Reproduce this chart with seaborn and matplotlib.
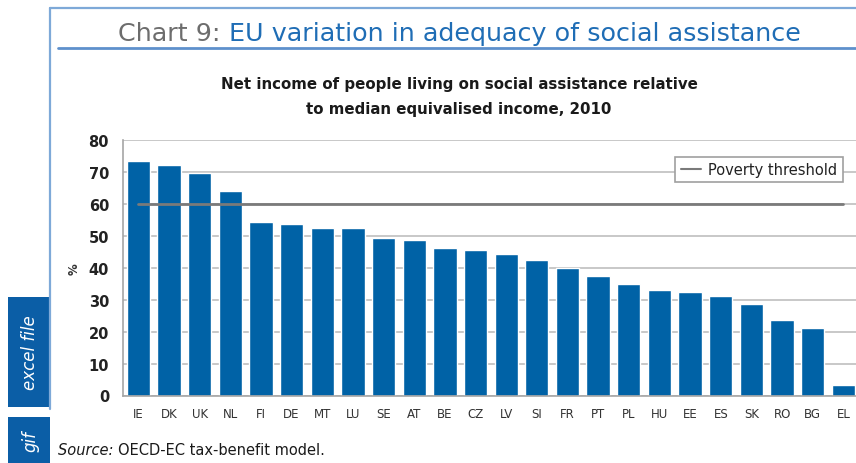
import numpy as np
import pandas as pd
import matplotlib
matplotlib.use("Agg")
import matplotlib.pyplot as plt
from matplotlib.patches import Rectangle
from matplotlib.lines import Line2D
import seaborn as sns

countries = ["IE", "DK", "UK", "NL", "FI", "DE", "MT", "LU", "SE", "AT", "BE", "CZ",
             "LV", "SI", "FR", "PT", "PL", "HU", "EE", "ES", "SK", "RO", "BG", "EL"]
net_income_pct = [73.3, 72.1, 69.6, 63.9, 54.4, 53.8, 52.6, 52.6, 49.4, 48.8, 46.3, 45.5,
                  44.3, 42.4, 40.0, 37.5, 35.0, 33.1, 32.5, 31.3, 28.7, 23.6, 21.1, 3.4]
poverty_threshold = 60
y_ticks = [0, 10, 20, 30, 40, 50, 60, 70, 80]

BAR_BLUE = "#0062a6"
TITLE_BLUE = "#1f6db5"
FRAME_BLUE = "#7ea9d8"
TAB_BLUE = "#0b5ea6"

sns.set_theme(style="white")
plt.rcParams["font.family"] = ["DejaVu Sans"]

W, H = 856, 464
fig = plt.figure(figsize=(W / 100, H / 100), dpi=100)

def fx(px):
    return px / W

def fy(py):
    return 1 - py / H

# plot area
ax = fig.add_axes([fx(123), fy(396.5), fx(858.7) - fx(123), fy(141) - fy(396.5)])

df = pd.DataFrame({"country": countries, "value": net_income_pct})
sns.barplot(data=df, x="country", y="value", color=BAR_BLUE, width=0.76,
            saturation=1, ax=ax, zorder=2)

# poverty threshold line across all countries
xs = np.arange(len(countries))
ax.plot(xs, [poverty_threshold] * len(countries), color="#7a7a7a", lw=2.0,
        zorder=3, label="Poverty threshold")

ax.set_xlim(-0.5, len(countries) - 0.5)
ax.set_ylim(0, 80)
ax.set_yticks(y_ticks)
ax.yaxis.grid(True, color="#c4c4c4", lw=1.3, zorder=0)
ax.set_axisbelow(True)
for s in ["top", "right"]:
    ax.spines[s].set_visible(False)
for s in ["left", "bottom"]:
    ax.spines[s].set_color("#a6a6a6")
    ax.spines[s].set_linewidth(1.2)

ax.set_xlabel("")
ax.set_ylabel("%", fontsize=8.5, fontweight="bold", color="#333333", labelpad=6)
ax.tick_params(axis="y", length=0, pad=10, labelsize=10.5, labelcolor="#222222")
for lab in ax.get_yticklabels():
    lab.set_fontweight("bold")
ax.tick_params(axis="x", which="major", length=0, pad=8, labelsize=8.5, labelcolor="#333333")
ax.set_xticks(np.arange(len(countries) + 1) - 0.5, minor=True)
ax.tick_params(axis="x", which="minor", length=4, width=1, color="#a6a6a6", direction="out")

leg = ax.legend(handles=[Line2D([], [], color="#7a7a7a", lw=1.5)], labels=["Poverty threshold"],
                loc="upper right", bbox_to_anchor=(0.978, 0.935), fontsize=10.5,
                frameon=True, fancybox=False, framealpha=1, edgecolor="#a0a0a0",
                handlelength=1.4, handletextpad=0.5, borderpad=0.35, borderaxespad=0)
leg.get_frame().set_linewidth(1.2)
for t in leg.get_texts():
    t.set_color("#222222")

# page frame and title rule
fig.add_artist(Line2D([fx(50), fx(50)], [fy(9), fy(410)], color=FRAME_BLUE, lw=1.6))
fig.add_artist(Line2D([fx(50), 1.0], [fy(9), fy(9)], color=FRAME_BLUE, lw=1.6))
fig.add_artist(Line2D([fx(58), 1.0], [fy(48.5), fy(48.5)], color="#5e90cc", lw=2.0))

# headline in two colours
t1 = fig.text(fx(118), fy(41), "Chart 9: ", fontsize=18.3, color="#6d6d6d",
              ha="left", va="baseline")
fig.canvas.draw()
bb = t1.get_window_extent()
fig.text(bb.x1 / W, fy(41), "EU variation in adequacy of social assistance", fontsize=18.3,
         color=TITLE_BLUE, ha="left", va="baseline")

fig.text(fx(459), fy(85), "Net income of people living on social assistance relative",
         fontsize=10.8, fontweight="bold", color="#1a1a1a", ha="center", va="center")
fig.text(fx(459), fy(110), "to median equivalised income, 2010",
         fontsize=10.8, fontweight="bold", color="#1a1a1a", ha="center", va="center")

# side tabs
fig.add_artist(Rectangle((fx(8), fy(408)), fx(50) - fx(8), fy(298) - fy(408),
                         facecolor=TAB_BLUE, edgecolor="none", transform=fig.transFigure))
fig.add_artist(Rectangle((fx(8), fy(470)), fx(50) - fx(8), fy(418) - fy(470),
                         facecolor=TAB_BLUE, edgecolor="none", transform=fig.transFigure))
fig.text(fx(30), fy(353), "excel file", rotation=90, color="white", fontsize=12,
         style="italic", ha="center", va="center")
fig.text(fx(30), fy(442), "gif", rotation=90, color="white", fontsize=12,
         style="italic", ha="center", va="center")

# source note
s1 = fig.text(fx(58), fy(451), "Source: ", fontsize=10.5, style="italic", color="#1a1a1a",
              ha="left", va="center")
fig.canvas.draw()
sb = s1.get_window_extent()
fig.text(sb.x1 / W, fy(451), "OECD-EC tax-benefit model.", fontsize=10.5, color="#1a1a1a",
         ha="left", va="center")

fig.savefig("out.png", dpi=100)
